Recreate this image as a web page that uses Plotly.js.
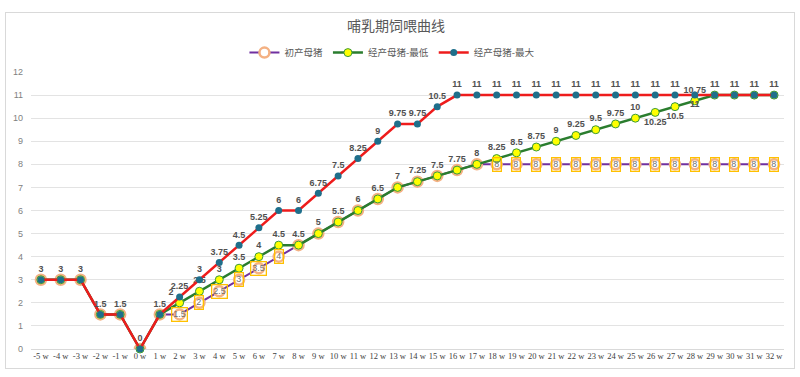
<!DOCTYPE html>
<html>
<head>
<meta charset="utf-8">
<script src="https://cdn.plot.ly/plotly-3.0.1.min.js"></script>
<style>
  html, body { margin: 0; padding: 0; background: #fff; }
  #wrap { position: relative; width: 800px; height: 377px; }
  #chart { width: 800px; height: 377px; }
  #frame { position: absolute; left: 5px; top: 12px; width: 790px; height: 357px;
           border: 1px solid #d9d9d9; pointer-events: none; box-sizing: border-box; }
</style>
</head>
<body>
<div id="wrap"><div id="chart"></div><div id="frame"></div></div>
<script>
const weeks = ['-5 w','-4 w','-3 w','-2 w','-1 w','0 w','1 w','2 w','3 w','4 w','5 w','6 w','7 w','8 w','9 w','10 w',
  '11 w','12 w','13 w','14 w','15 w','16 w','17 w','18 w','19 w','20 w','21 w','22 w','23 w','24 w','25 w','26 w',
  '27 w','28 w','29 w','30 w','31 w','32 w'];

const gilt = [3,3,3,1.5,1.5,0,1.5,1.5,2,2.5,3,3.5,4,4.5,5,5.5,6,6.5,7,7.25,7.5,7.75,8,8,8,8,8,8,8,8,8,8,8,8,8,8,8,8];
const sowMin = [3,3,3,1.5,1.5,0,1.5,2,2.5,3,3.5,4,4.5,4.5,5,5.5,6,6.5,7,7.25,7.5,7.75,8,8.25,8.5,8.75,9,9.25,9.5,9.75,10,10.25,10.5,10.75,11,11,11,11];
const sowMax = [3,3,3,1.5,1.5,0,1.5,2.25,3,3.75,4.5,5.25,6,6,6.75,7.5,8.25,9,9.75,9.75,10.5,11,11,11,11,11,11,11,11,11,11,11,11,11,11,11,11,11];

const seriesNames = ['初产母猪','经产母猪-最低','经产母猪-最大'];

const labFont = {family: 'Liberation Sans, Arial, sans-serif', size: 9, color: '#505050', weight: 'bold'};

// green labels: shown from 2w to 28w
const greenText = sowMin.map((v,i) => (i >= 7 && i <= 33) ? String(v) : '');
const greenPos = sowMin.map((v,i) => (i === 31 || i === 32) ? 'bottom center' : (i === 7 ? 'top left' : 'top center'));
const redText = sowMax.map(v => String(v));
const redPos = sowMax.map((v,i) => i === 33 ? 'bottom center' : 'top center');

const traces = [
  {
    type: 'scatter', mode: 'lines+markers', name: seriesNames[0], x: weeks, y: gilt,
    line: {color: '#7030a0', width: 2},
    marker: {symbol: 'circle', size: 10, color: '#ffffff', line: {color: '#f4b183', width: 2.5}},
    hoverinfo: 'skip'
  },
  {
    type: 'scatter', mode: 'lines+markers+text', name: seriesNames[1], x: weeks, y: sowMin,
    line: {color: '#2a7d2e', width: 2.5},
    marker: {symbol: 'circle', size: 8, color: '#ffff00', line: {color: '#3a9a3a', width: 1}},
    text: greenText, textposition: greenPos, textfont: labFont, cliponaxis: false,
    hoverinfo: 'skip'
  },
  {
    type: 'scatter', mode: 'lines+markers+text', name: seriesNames[2], x: weeks, y: sowMax,
    line: {color: '#ee1c1c', width: 2.5},
    marker: {symbol: 'circle', size: 7, color: '#1f6f8b'},
    text: redText, textposition: redPos, textfont: labFont, cliponaxis: false,
    hoverinfo: 'skip'
  }
];

// boxed labels for 初产母猪 (2w-7w and 18w-32w)
const annotations = [];
gilt.forEach((v,i) => {
  if ((i >= 7 && i <= 12) || i >= 23) {
    annotations.push({
      x: weeks[i], y: v, xref: 'x', yref: 'y', text: String(v), showarrow: false,
      font: {family: 'Liberation Sans, Arial, sans-serif', size: 9, color: '#707070'},
      bordercolor: '#ffc000', borderwidth: 1.3, borderpad: 1, bgcolor: 'rgba(255,255,255,0)'
    });
  }
});

const layout = {
  width: 800, height: 377,
  margin: {l: 31, r: 16, t: 72, b: 28},
  paper_bgcolor: '#ffffff', plot_bgcolor: '#ffffff',
  title: {text: '哺乳期饲喂曲线', x: 0.495, xanchor: 'center', y: 0.93, yanchor: 'middle',
          font: {family: 'Noto Sans CJK SC', size: 14, color: '#595959'}},
  showlegend: true,
  legend: {orientation: 'h', x: 0.48, xanchor: 'center', y: 1.07, yanchor: 'middle',
           font: {family: 'Noto Sans CJK SC', size: 9.5, color: '#595959'}, itemwidth: 30,
           bgcolor: 'rgba(0,0,0,0)'},
  xaxis: {type: 'category', range: [-0.5, 37.5], showgrid: false, zeroline: false,
          showline: false, ticks: '', fixedrange: true,
          tickfont: {family: 'Liberation Serif, Times New Roman, serif', size: 8.5, color: '#404040'}},
  yaxis: {range: [0, 12], dtick: 1, tick0: 0, showgrid: true, gridcolor: '#e3e3e3', gridwidth: 1,
          zeroline: true, zerolinecolor: '#d9d9d9', zerolinewidth: 1, showline: false, ticks: '',
          fixedrange: true, ticklabelstandoff: 7,
          tickfont: {family: 'Liberation Sans, Arial, sans-serif', size: 9, color: '#7f7f7f'}},
  annotations: annotations
};

Plotly.newPlot('chart', traces, layout, {displayModeBar: false, staticPlot: true});
</script>
</body>
</html>
